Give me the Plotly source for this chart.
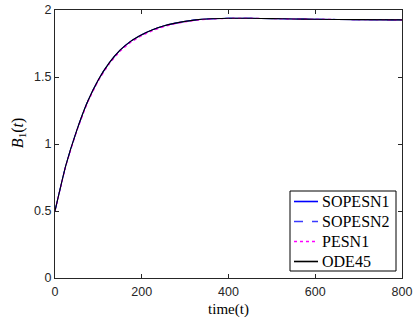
import plotly.graph_objects as go

t = [0, 25, 50, 75, 100, 125, 150, 175, 200, 225, 250, 275, 300, 325, 350, 400, 450, 500, 550, 600, 700, 800]
sopesn1 = [0.50, 0.84, 1.10, 1.315, 1.48, 1.605, 1.70, 1.768, 1.815, 1.852, 1.880, 1.900, 1.915, 1.926, 1.933, 1.938, 1.938, 1.936, 1.933, 1.931, 1.928, 1.926]
sopesn2 = [0.50, 0.84, 1.10, 1.315, 1.48, 1.605, 1.70, 1.768, 1.815, 1.852, 1.880, 1.900, 1.915, 1.926, 1.933, 1.938, 1.938, 1.936, 1.933, 1.931, 1.928, 1.926]
pesn1 = [0.50, 0.835, 1.093, 1.307, 1.471, 1.596, 1.691, 1.759, 1.807, 1.845, 1.874, 1.895, 1.911, 1.923, 1.931, 1.937, 1.938, 1.936, 1.933, 1.931, 1.928, 1.926]
ode45 = [0.50, 0.84, 1.10, 1.315, 1.48, 1.605, 1.70, 1.768, 1.815, 1.852, 1.880, 1.900, 1.915, 1.926, 1.933, 1.938, 1.938, 1.936, 1.933, 1.931, 1.928, 1.926]

x_ticks = [0, 200, 400, 600, 800]
y_ticks = [0, 0.5, 1, 1.5, 2]
y_tick_labels = ["0", "0.5", "1", "1.5", "2"]

series = [
    ("SOPESN1", sopesn1, "#0000ff", "solid"),
    ("SOPESN2", sopesn2, "#3a3aff", "dash"),
    ("PESN1", pesn1, "#ff00ff", "dot"),
    ("ODE45", ode45, "#000000", "solid"),
]

W, H = 414, 325
ML, MR, MT, MB = 55, 12, 10, 47
PW, PH = W - ML - MR, H - MT - MB


def px_x(px):
    return (px - ML) / PW


def px_y(py):
    return (H - MB - py) / PH


fig = go.Figure()
for name, vals, col, dash in series:
    fig.add_trace(go.Scatter(x=t, y=vals, mode="lines", name=name, showlegend=False,
                             line=dict(color=col, dash=dash, width=1.1, shape="spline", smoothing=0.5)))

# legend box drawn manually (MATLAB-style)
shapes = [dict(type="rect", xref="paper", yref="paper",
               x0=px_x(290), x1=px_x(396), y0=px_y(271), y1=px_y(191),
               line=dict(color="#000000", width=1), fillcolor="rgba(0,0,0,0)", layer="below")]
annotations = []
row_y = [201.5, 221.5, 241.5, 261.5]
for (name, _, col, dash), ry in zip(series, row_y):
    shapes.append(dict(type="line", xref="paper", yref="paper",
                       x0=px_x(294), x1=px_x(318), y0=px_y(ry), y1=px_y(ry),
                       line=dict(color=col, dash=dash, width=1.6), layer="above"))
    annotations.append(dict(text=name, xref="paper", yref="paper", x=px_x(320), y=px_y(ry),
                            xanchor="left", yanchor="middle", showarrow=False,
                            font=dict(family="Liberation Serif, serif", size=16, color="#000000")))

annotations.append(dict(text="<i>B</i><sub>1</sub>(<i>t</i>)", xref="paper", yref="paper",
                        x=-0.107, y=0.54, xanchor="center", yanchor="middle",
                        showarrow=False, textangle=-90,
                        font=dict(family="Liberation Serif, serif", size=16, color="#000000")))

axis_common = dict(
    showline=True, linecolor="#262626", linewidth=1, mirror="ticks",
    ticks="inside", ticklen=4, tickcolor="#262626", tickwidth=1,
    showgrid=False, zeroline=False, automargin=False,
    tickfont=dict(family="Liberation Sans, Arial, sans-serif", size=12.5, color="#262626"),
)

fig.update_layout(
    width=W, height=H,
    margin=dict(l=ML, r=MR, t=MT, b=MB),
    paper_bgcolor="white", plot_bgcolor="white",
    xaxis=dict(range=[0, 800], tickvals=x_ticks, ticktext=[str(v) for v in x_ticks],
               ticklabelstandoff=2,
               title=dict(text="time(t)", font=dict(family="Liberation Serif, serif", size=15, color="#000000"), standoff=5),
               **axis_common),
    yaxis=dict(range=[0, 2], tickvals=y_ticks, ticktext=y_tick_labels, **axis_common),
    showlegend=False,
    shapes=shapes,
    annotations=annotations,
)

fig.write_html("out.html", post_script="document.body.style.margin='0';",
               config={"displayModeBar": False})
